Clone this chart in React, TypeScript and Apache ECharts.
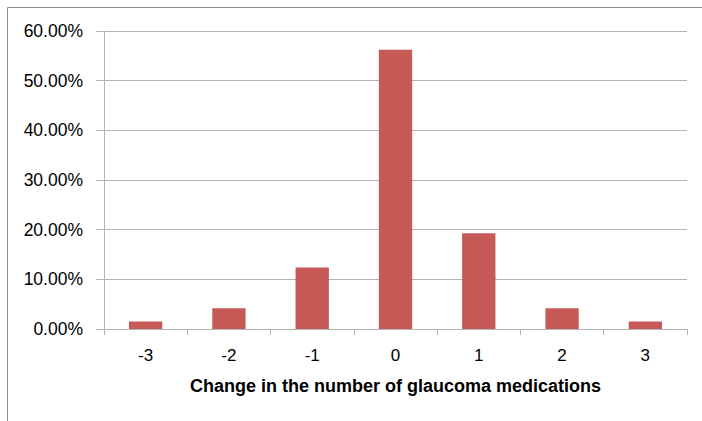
import React, { useEffect, useRef } from "react";
import * as echarts from "echarts";

const categories = ["-3", "-2", "-1", "0", "1", "2", "3"];
const percentages = [1.5, 4.2, 12.4, 56.2, 19.3, 4.2, 1.5];
const yTicks = [0, 10, 20, 30, 40, 50, 60];
const xTitle = "Change in the number of glaucoma medications";

export default function App() {
  const ref = useRef<HTMLDivElement>(null);
  useEffect(() => {
    if (!ref.current) return;
    const chart = echarts.init(ref.current, undefined, { renderer: "svg" });
    chart.setOption({
      animation: false,
      backgroundColor: "#ffffff",
      textStyle: { fontFamily: "Liberation Sans" },
      graphic: [
        { type: "line", shape: { x1: 7.5, y1: 7.5, x2: 702, y2: 7.5 }, style: { stroke: "#8c8c8c", lineWidth: 1 } },
        { type: "line", shape: { x1: 7.5, y1: 7.5, x2: 7.5, y2: 421 }, style: { stroke: "#8c8c8c", lineWidth: 1 } },
      ],
      grid: { left: 104, right: 15, top: 31, bottom: 92, containLabel: false },
      xAxis: {
        type: "category",
        data: categories,
        name: xTitle,
        nameLocation: "middle",
        nameGap: 48,
        nameTextStyle: { fontSize: 18, fontWeight: "bold", color: "#000", fontFamily: "Liberation Sans" },
        axisLine: { lineStyle: { color: "#b3b3b3", width: 1 } },
        axisTick: { show: true, alignWithLabel: false, length: 6, lineStyle: { color: "#b3b3b3" } },
        axisLabel: { fontSize: 17, color: "#000", margin: 18 },
      },
      yAxis: {
        type: "value",
        min: yTicks[0],
        max: yTicks[yTicks.length - 1],
        interval: 10,
        axisLine: { show: true, lineStyle: { color: "#b3b3b3", width: 1 } },
        axisTick: { show: true, length: 8, lineStyle: { color: "#b3b3b3" } },
        splitLine: { show: true, lineStyle: { color: "#b3b3b3", width: 1 } },
        axisLabel: {
          fontSize: 17.5,
          color: "#000",
          margin: 21,
          formatter: (v: number) => v.toFixed(2) + "%",
        },
      },
      series: [
        {
          type: "bar",
          data: percentages,
          barWidth: "40%",
          itemStyle: { color: "#c55a57" },
        },
      ],
    });
    return () => chart.dispose();
  }, []);
  return (
    <div
      ref={ref}
      style={{ position: "fixed", left: 0, top: 0, width: 702, height: 421 }}
    />
  );
}
